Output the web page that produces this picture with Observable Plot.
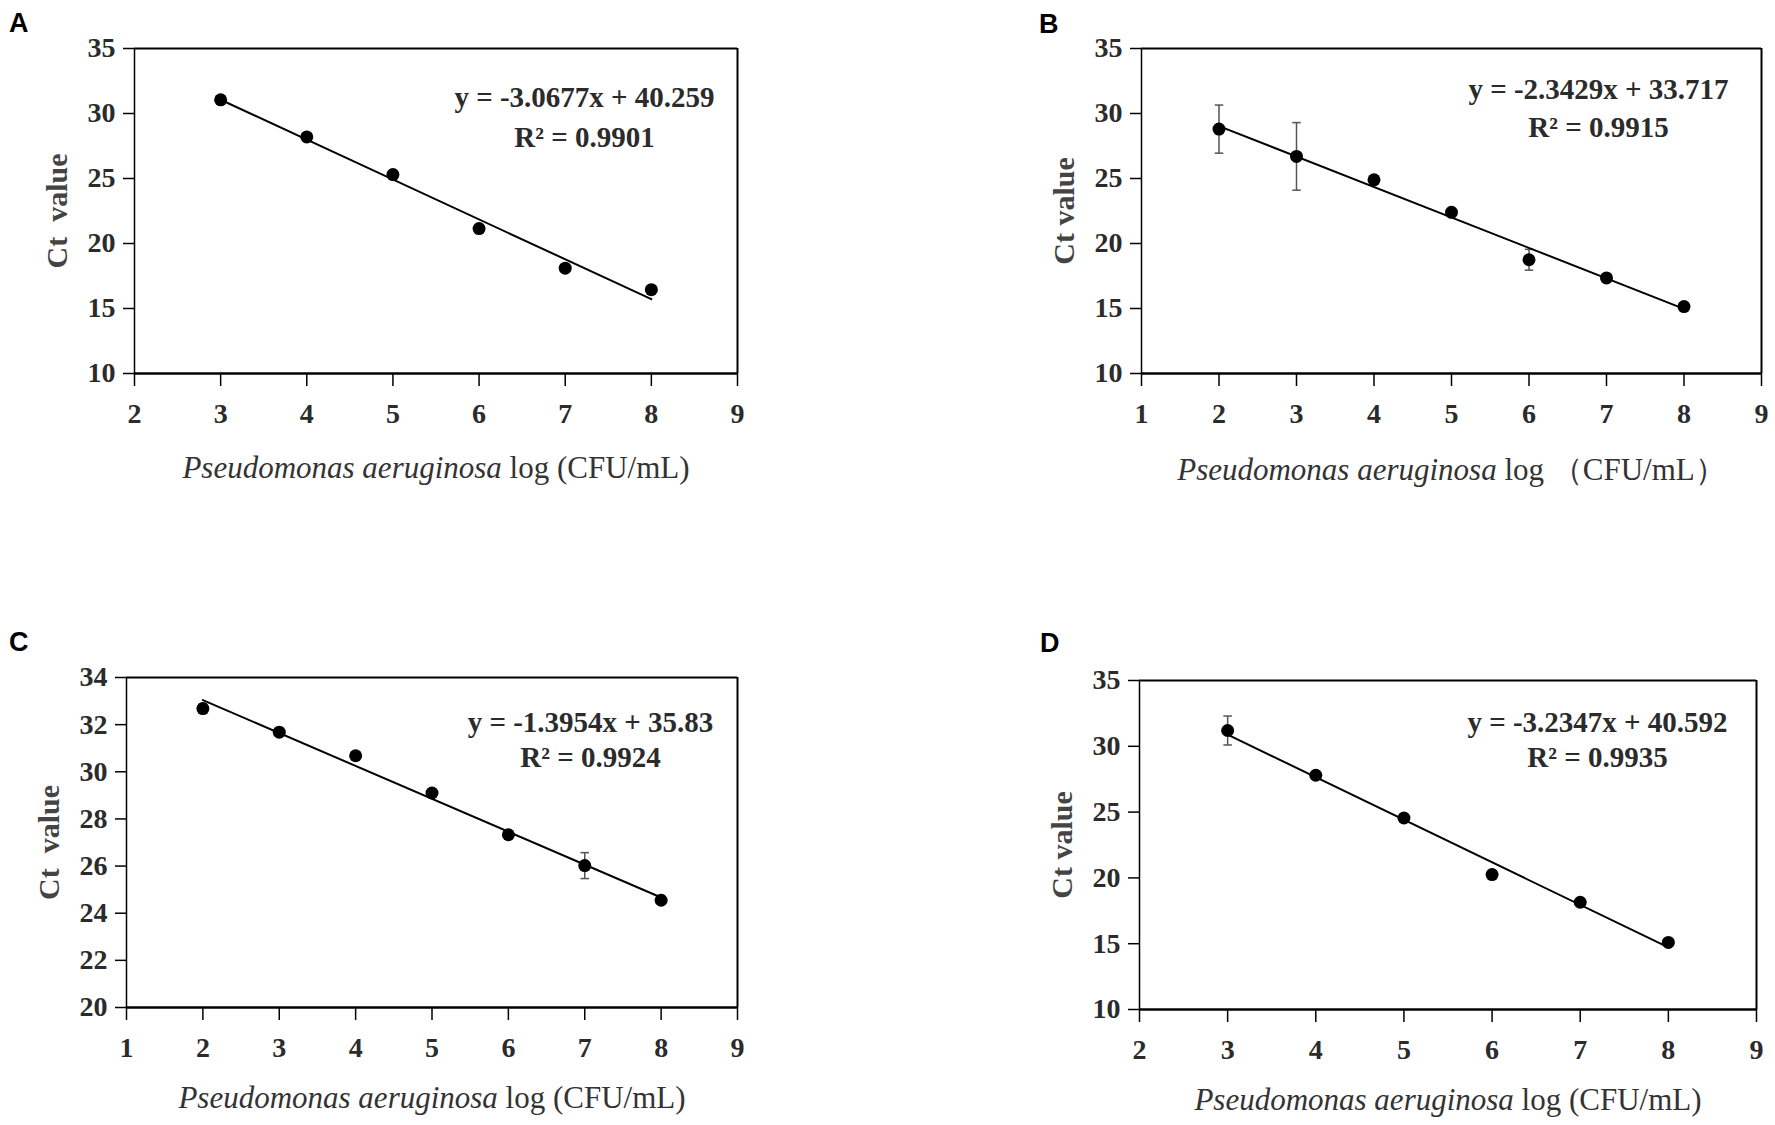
<!DOCTYPE html>
<html>
<head>
<meta charset="utf-8">
<script src="https://cdn.jsdelivr.net/npm/d3@7"></script>
<script src="https://cdn.jsdelivr.net/npm/@observablehq/plot@0.6"></script>
<style>
  html, body { margin: 0; padding: 0; background: #fff; }
  #page { position: relative; width: 1775px; height: 1125px; overflow: hidden; background: #fff; }
  .panel { position: absolute; }
  .letter { position: absolute; font-family: "Liberation Sans", Arial, sans-serif; font-weight: bold; font-size: 27px; line-height: 27px; color: #000; }
  .ital { font-style: italic; }
</style>
</head>
<body>
<div id="page"></div>
<script>
// ---- Data ----
const panelNames = ["A", "B", "C", "D"];

const xA = [3, 4, 5, 6, 7, 8];
const yA = [31.05, 28.2, 25.3, 21.15, 18.1, 16.45];
const eA = [0.15, 0.1, 0.15, 0.2, 0.15, 0.3];

const xB = [2, 3, 4, 5, 6, 7, 8];
const yB = [28.8, 26.7, 24.9, 22.4, 18.75, 17.35, 15.15];
const eB = [1.85, 2.6, 0.3, 0.2, 0.8, 0.2, 0.15];

const xC = [2, 3, 4, 5, 6, 7, 8];
const yC = [32.68, 31.68, 30.68, 29.1, 27.33, 26.02, 24.55];
const eC = [0.2, 0.15, 0.1, 0.15, 0.15, 0.55, 0.1];

const xD = [3, 4, 5, 6, 7, 8];
const yD = [31.2, 27.8, 24.55, 20.25, 18.15, 15.1];
const eD = [1.1, 0.2, 0.2, 0.15, 0.2, 0.15];

const slopes = [-3.0677, -2.3429, -1.3954, -3.2347];
const intercepts = [40.259, 33.717, 35.83, 40.592];
const r2s = [0.9901, 0.9915, 0.9924, 0.9935];

const xTicksA = [2, 3, 4, 5, 6, 7, 8, 9];
const xTicksB = [1, 2, 3, 4, 5, 6, 7, 8, 9];
const xTicksC = [1, 2, 3, 4, 5, 6, 7, 8, 9];
const xTicksD = [2, 3, 4, 5, 6, 7, 8, 9];
const yTicksA = [10, 15, 20, 25, 30, 35];
const yTicksB = [10, 15, 20, 25, 30, 35];
const yTicksC = [20, 22, 24, 26, 28, 30, 32, 34];
const yTicksD = [10, 15, 20, 25, 30, 35];

const yLabels = ["Ct\u00A0\u00A0value", "Ct value", "Ct\u00A0\u00A0value", "Ct value"];
const xLabelItalic = "Pseudomonas aeruginosa";
const xLabelRest = ["log (CFU/mL)", "log （CFU/mL）", "log (CFU/mL)", "log (CFU/mL)"];

// ---- Layout (pixel placement of each panel) ----
const layout = [
  {left: 0,    top: 0,   width: 880, height: 560, mL: 134, mT: 48, mR: 143, mB: 187, eqDx: -153, eqDy: 49, r2Dy: 89, xlabDy: 95,
   letter: {left: 9, top: 10}},
  {left: 1000, top: 0,   width: 775, height: 560, mL: 141, mT: 48, mR: 14,  mB: 187, eqDx: -163, eqDy: 41, r2Dy: 79, xlabDy: 97,
   letter: {left: 1039, top: 11}},
  {left: 0,    top: 600, width: 880, height: 525, mL: 126, mT: 77, mR: 143, mB: 118, eqDx: -147, eqDy: 45, r2Dy: 80, xlabDy: 91,
   letter: {left: 9, top: 629}},
  {left: 1000, top: 600, width: 775, height: 525, mL: 139, mT: 80, mR: 19,  mB: 116, eqDx: -159, eqDy: 42, r2Dy: 77, xlabDy: 91,
   letter: {left: 1040, top: 630}}
];

const panels = [
  {xs: xA, ys: yA, es: eA, xt: xTicksA, yt: yTicksA},
  {xs: xB, ys: yB, es: eB, xt: xTicksB, yt: yTicksB},
  {xs: xC, ys: yC, es: eC, xt: xTicksC, yt: yTicksC},
  {xs: xD, ys: yD, es: eD, xt: xTicksD, yt: yTicksD}
];

const serif = "'Liberation Serif', 'Times New Roman', Times, serif";
const capSymbol = {
  draw(ctx, size) { const w = Math.sqrt(size); ctx.moveTo(-w, 0); ctx.lineTo(w, 0); }
};
const intFmt = d3.format("d");

const page = document.getElementById("page");

panels.forEach((p, i) => {
  const L = layout[i];
  const pts = p.xs.map((x, j) => ({x, y: p.ys[j], e: p.es[j]}));
  const xMin = p.xt[0], xMax = p.xt[p.xt.length - 1];
  const yMin = p.yt[0], yMax = p.yt[p.yt.length - 1];
  const fitX = [p.xs[0], p.xs[p.xs.length - 1]];
  const fit = fitX.map(x => ({x, y: slopes[i] * x + intercepts[i]}));
  const eq = `y = ${slopes[i]}x + ${intercepts[i]}`;
  const r2 = `R\u00B2 = ${r2s[i]}`;
  const fullLabel = xLabelItalic + " " + xLabelRest[i];

  const chart = Plot.plot({
    width: L.width,
    height: L.height,
    marginLeft: L.mL,
    marginTop: L.mT,
    marginRight: L.mR,
    marginBottom: L.mB,
    style: {fontFamily: serif, fontSize: "27px", background: "transparent", overflow: "visible"},
    x: {domain: [xMin, xMax]},
    y: {domain: [yMin, yMax]},
    marks: [
      Plot.axisY({ticks: p.yt, tickFormat: intFmt, tickSize: 11, tickPadding: 8, label: null, fontSize: 28, fontWeight: "bold",
                  fill: "#2b2b2b", stroke: "#000", strokeWidth: 1.5, fontFamily: serif}),
      Plot.axisX({ticks: p.xt, tickFormat: intFmt, tickSize: 13, tickPadding: 17, label: null, fontSize: 28, fontWeight: "bold",
                  fill: "#2b2b2b", stroke: "#000", strokeWidth: 1.5, fontFamily: serif}),
      Plot.ruleX([xMin], {stroke: "#000", strokeWidth: 1.5}),
      Plot.ruleX([xMax], {stroke: "#000", strokeWidth: 2}),
      Plot.ruleY([yMax], {stroke: "#000", strokeWidth: 2.2}),
      Plot.ruleY([yMin], {stroke: "#000", strokeWidth: 2.6}),
      Plot.link(pts, {x1: "x", x2: "x", y1: d => d.y - d.e, y2: d => d.y + d.e, stroke: "#555", strokeWidth: 1.5}),
      Plot.dot(pts, {x: "x", y: d => d.y + d.e, symbol: capSymbol, r: 2.4, stroke: "#555", strokeWidth: 1.5, fill: "none"}),
      Plot.dot(pts, {x: "x", y: d => d.y - d.e, symbol: capSymbol, r: 2.4, stroke: "#555", strokeWidth: 1.5, fill: "none"}),
      Plot.line(fit, {x: "x", y: "y", stroke: "#000", strokeWidth: 2}),
      Plot.dot(pts, {x: "x", y: "y", r: 6.5, fill: "#000", stroke: "none"}),
      Plot.text([eq], {frameAnchor: "top-right", dx: L.eqDx, dy: L.eqDy, textAnchor: "middle", lineAnchor: "middle",
                       fontSize: 29, fontWeight: "bold", fill: "#2b2b2b", fontFamily: serif}),
      Plot.text([r2], {frameAnchor: "top-right", dx: L.eqDx, dy: L.r2Dy, textAnchor: "middle", lineAnchor: "middle",
                       fontSize: 29, fontWeight: "bold", fill: "#2b2b2b", fontFamily: serif}),
      Plot.text([yLabels[i]], {frameAnchor: "left", dx: -77, rotate: -90, textAnchor: "middle", lineAnchor: "middle",
                               fontSize: 30, fontWeight: "bold", fill: "#444", fontFamily: serif}),
      Plot.text([fullLabel], {frameAnchor: "bottom", dy: L.xlabDy, textAnchor: "middle", lineAnchor: "middle",
                              fontSize: 31, fill: "#333", fontFamily: serif})
    ]
  });

  // Split the x label into an italic species name and an upright unit part.
  const ns = "http://www.w3.org/2000/svg";
  chart.querySelectorAll("text").forEach(t => {
    if (t.textContent === fullLabel) {
      while (t.firstChild) t.removeChild(t.firstChild);
      const a = document.createElementNS(ns, "tspan");
      a.setAttribute("class", "ital");
      a.setAttribute("font-style", "italic");
      a.style.fontStyle = "italic";
      a.textContent = xLabelItalic;
      const b = document.createElementNS(ns, "tspan");
      b.style.fontStyle = "normal";
      b.textContent = "\u00A0" + xLabelRest[i];
      t.appendChild(a);
      t.appendChild(b);
    }
  });

  const wrap = document.createElement("div");
  wrap.className = "panel";
  wrap.style.left = L.left + "px";
  wrap.style.top = L.top + "px";
  wrap.appendChild(chart);
  page.appendChild(wrap);

  const letter = document.createElement("div");
  letter.className = "letter";
  letter.style.left = L.letter.left + "px";
  letter.style.top = L.letter.top + "px";
  letter.textContent = panelNames[i];
  page.appendChild(letter);
});
</script>
</body>
</html>
